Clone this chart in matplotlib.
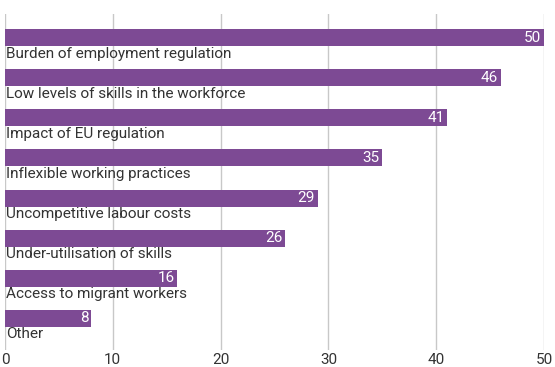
import matplotlib
matplotlib.use("Agg")
import matplotlib.pyplot as plt
from matplotlib.transforms import offset_copy

categories = [
    "Burden of employment regulation",
    "Low levels of skills in the workforce",
    "Impact of EU regulation",
    "Inflexible working practices",
    "Uncompetitive labour costs",
    "Under-utilisation of skills",
    "Access to migrant workers",
    "Other",
]
values = [50, 46, 41, 35, 29, 26, 16, 8]
xticks = [0, 10, 20, 30, 40, 50]

bar_color = "#7D4A94"
text_color = "#333333"

plt.rcParams["font.family"] = ["Roboto", "DejaVu Sans"]

fig = plt.figure(figsize=(5.55, 3.67), dpi=100)
ax = fig.add_axes([5 / 555, 1 - 350 / 367, 539 / 555, 336 / 367])

pos = list(range(len(categories)))
ax.barh(pos, values, height=0.425, color=bar_color, zorder=2)

val_tr = offset_copy(ax.transData, fig=fig, x=-2, y=0, units="points")
lab_tr = offset_copy(ax.transData, fig=fig, x=1, y=0, units="points")
for i, (c, v) in enumerate(zip(categories, values)):
    ax.text(v, i, str(v), ha="right", va="center", color="white",
            fontsize=11, transform=val_tr, zorder=3)
    ax.text(0, i + 0.4, c, ha="left", va="center", color=text_color,
            fontsize=11, transform=lab_tr, zorder=3)

ax.set_xlim(0, 50)
ax.set_ylim(7.7875, -0.5875)
ax.set_xticks(xticks)
ax.set_xticklabels([str(t) for t in xticks], fontsize=11, color=text_color)
ax.set_yticks([])
ax.tick_params(axis="x", length=0, pad=2)
ax.xaxis.grid(True, color="#C8C8C8", linewidth=1, zorder=0)
ax.set_axisbelow(True)
for s in ax.spines.values():
    s.set_visible(False)

fig.savefig("out.png", dpi=100)
